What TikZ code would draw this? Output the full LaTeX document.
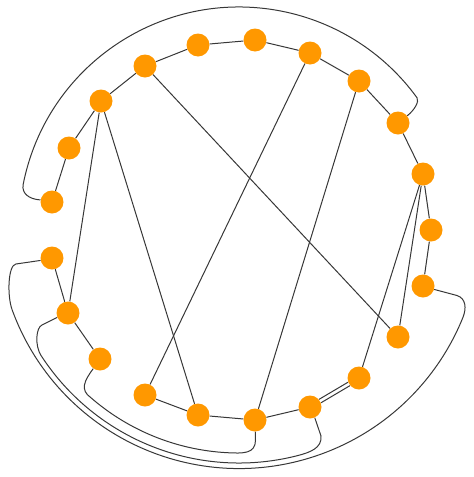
\documentclass[tikz,border=0pt]{standalone}
\usetikzlibrary{backgrounds,calc}
\definecolor{vorange}{RGB}{255,152,0}
\definecolor{edgegray}{RGB}{55,55,55}
\tikzset{
  vtx/.style={circle,fill=vorange,draw=none,minimum size=23pt,inner sep=0pt},
  edge/.style={draw=edgegray,line width=1pt}
}
\begin{document}
\begin{tikzpicture}[x=1pt,y=-1pt]
\useasboundingbox (0,0) rectangle (474,477);
\coordinate (C) at (239,227);
\node[vtx] (n1) at (198,45) {};
\node[vtx] (n2) at (255,40) {};
\node[vtx] (n3) at (310,53) {};
\node[vtx] (n4) at (359,81) {};
\node[vtx] (n5) at (398,123) {};
\node[vtx] (n6) at (423,174) {};
\node[vtx] (n7) at (431,230) {};
\node[vtx] (n8) at (423,286) {};
\node[vtx] (n9) at (398,337) {};
\node[vtx] (n10) at (359,378) {};
\node[vtx] (n11) at (310,407) {};
\node[vtx] (n12) at (255,420) {};
\node[vtx] (n13) at (198,415) {};
\node[vtx] (n14) at (145,395) {};
\node[vtx] (n15) at (100,359) {};
\node[vtx] (n16) at (68,313) {};
\node[vtx] (n17) at (52,258) {};
\node[vtx] (n18) at (52,202) {};
\node[vtx] (n19) at (69,148) {};
\node[vtx] (n20) at (101,101) {};
\node[vtx] (n21) at (145,66) {};
\begin{scope}[on background layer]
\draw[edge] (n21) -- (n1) -- (n2) -- (n3) -- (n4) -- (n5) -- (n6) -- (n7) -- (n8);
\draw[edge] (n11) -- (n12) -- (n13) -- (n14);
\draw[edge] (n15) -- (n16) -- (n17);
\draw[edge] (n18) -- (n19) -- (n20) -- (n21);
\draw[edge] (n21) -- (n9);
\draw[edge] (n20) -- (n16);
\draw[edge] (n20) -- (n13);
\draw[edge] (n3) -- (n14);
\draw[edge] (n4) -- (n12);
\draw[edge] (n6) -- (n10);
\draw[edge] (n6) -- (n9);
\draw[edge,transform canvas={shift={(1,1.7)}}] (n10) -- (n11);
\draw[edge,transform canvas={shift={(-1,-1.7)}}] (n10) -- (n11);
% top arc 18 -> 5
\draw[edge] (n18.170) .. controls (28,199) and (22,193) .. ($(C)+(191:220)$)
  arc[start angle=191,end angle=324,radius=220]
  .. controls (419.5,101.5) and (414.5,110) .. (n5.38);
% outer 17 -> 8
\draw[edge] (n17.192) -- (16,264) .. controls (8,265) and (7,295.5) .. ($(C)+(160:241.5)$)
  arc[start angle=160,end angle=22,radius=241.5]
  .. controls (466.6,308.2) and (466,298.5) .. (457,295.5) -- (n8.-17);
% middle 16 -> 11
\draw[edge] (n16.202) -- (42,325) .. controls (36,327.5) and (34.6,345.4) .. ($(C)+(147:236)$)
  arc[start angle=147,end angle=76,radius=236]
  .. controls (310.6,452.4) and (322,448) .. (321,436) -- (n11.-66);
% inner 15 -> 12
\draw[edge] (n15.235) .. controls (84,381) and (80,390) .. ($(C)+(131:226)$)
  arc[start angle=131,end angle=93,radius=226]
  .. controls (243,453.5) and (255.5,454) .. (255.5,440) -- (n12.-88);
\end{scope}
\end{tikzpicture}
\end{document}
